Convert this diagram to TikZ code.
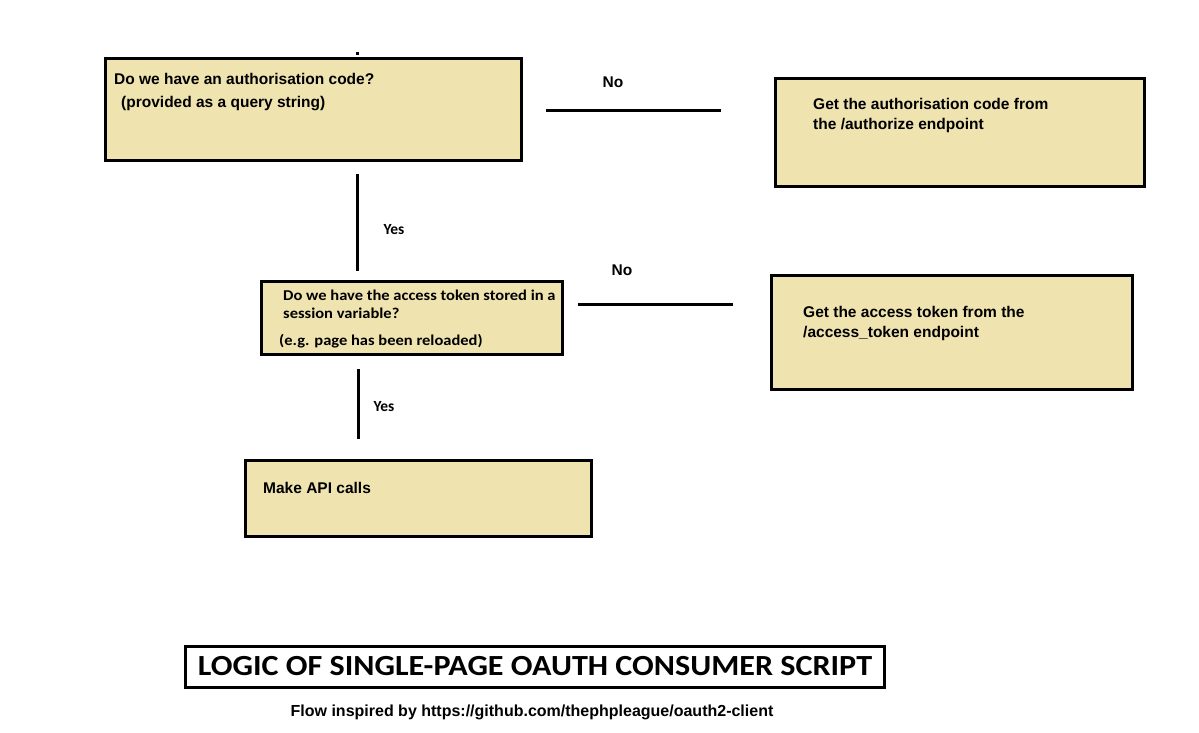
\documentclass[tikz,border=0pt]{standalone}
\usepackage{fontspec}
\newfontfamily\arialfont{Liberation Sans}
\newfontfamily\califont{Carlito}
\newfontfamily\caliwide{Carlito}[FakeStretch=1.1]
\definecolor{boxfill}{RGB}{239,227,176}
\tikzset{
  stepbox/.style={draw, line width=3pt, fill=boxfill, inner sep=0pt},
  boxtext/.style={anchor=north west, align=left, inner sep=0pt},
  flow/.style={line width=3pt},
  arialtxt/.style={font=\arialfont\bfseries\fontsize{15.5}{20}\selectfont},
  calitxt/.style={font=\caliwide\bfseries\fontsize{15}{18}\selectfont},
}
\begin{document}
\begin{tikzpicture}[x=1pt,y=-1pt]
\useasboundingbox (0,0) rectangle (1199,733);
% boxes
\draw[stepbox] (105,59) rectangle (521,160);
\draw[stepbox] (775,79) rectangle (1144,186);
\draw[stepbox] (261.5,281) rectangle (562.5,354);
\draw[stepbox] (771,275.5) rectangle (1132.5,389);
\draw[stepbox] (245,460) rectangle (591,536.5);
% texts
\node[boxtext,arialtxt,font=\arialfont\bfseries\fontsize{15.5}{23}\selectfont] (codeq) at (114,73)
  {Do we have an authorisation code?\\\hspace{7pt}(provided as a query string)};
\node[boxtext,arialtxt] (getcode) at (813,98.5)
  {Get the authorisation code from\\the /authorize endpoint};
\node[boxtext,calitxt] (tokenq) at (283,290)
  {Do we have the access token stored in a\\session variable?};
\node[calitxt,anchor=base west,inner sep=0pt] (tokennote) at (279,345)
  {(e.g. page has been reloaded)};
\node[boxtext,arialtxt] (gettoken) at (803,306.5)
  {Get the access token from the\\/access\_token endpoint};
\node[boxtext,arialtxt] (apicalls) at (263,482.5) {Make API calls};
% connectors
\coordinate (stubtop) at (357.5,52.5);
\coordinate (stubbot) at (357.5,55.5);
\coordinate (yesatop) at (357,174);
\coordinate (yesabot) at (357,271);
\coordinate (noaleft) at (546,110.5);
\coordinate (noaright) at (721,110.5);
\coordinate (nobleft) at (578,304.3);
\coordinate (nobright) at (733,304.3);
\coordinate (yesbtop) at (358,369);
\coordinate (yesbbot) at (358,439);
\draw[flow] (stubtop) -- (stubbot);
\draw[flow] (yesatop) -- (yesabot);
\draw[flow] (noaleft) -- (noaright);
\draw[flow] (nobleft) -- (nobright);
\draw[flow] (yesbtop) -- (yesbbot);
\node[arialtxt] (noa) at (613,82.5) {No};
\node[arialtxt] (nob) at (622,270.5) {No};
\node[font=\califont\bfseries\fontsize{15.5}{18}\selectfont] (yesa) at (394,230) {Yes};
\node[font=\califont\bfseries\fontsize{15.5}{18}\selectfont] (yesb) at (384,407) {Yes};
% title
\node[draw, line width=3pt, minimum width=698.5pt, minimum height=41pt, inner sep=0pt,
  font=\caliwide\bfseries\fontsize{29.2}{30}\selectfont] (title) at (535,666.5)
  {LOGIC OF SINGLE-PAGE OAUTH CONSUMER SCRIPT};
\node[anchor=base, inner sep=0pt, font=\arialfont\bfseries\fontsize{16}{18}\selectfont] (credit) at (532,716)
  {Flow inspired by https://github.com/thephpleague/oauth2-client};
\end{tikzpicture}
\end{document}
